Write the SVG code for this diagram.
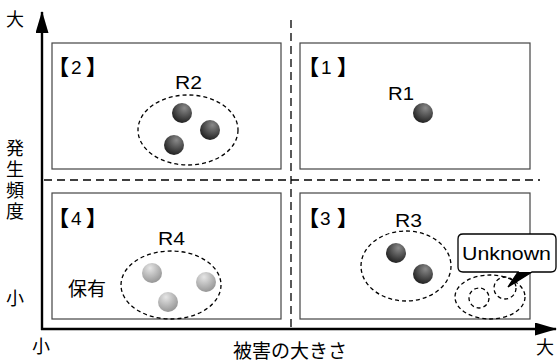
<svg xmlns="http://www.w3.org/2000/svg" width="558" height="363" viewBox="0 0 558 363">
  <style>
    .box { fill: #fff; stroke: #444; stroke-width: 1.2; }
    .axis { stroke: #000; stroke-width: 2.4; fill: none; }
    .guide { stroke: #000; stroke-width: 1.3; stroke-dasharray: 8 5; fill: none; }
    .group { fill: none; stroke: #000; stroke-width: 1.3; stroke-dasharray: 4 3; }
    .t { font-family: "Liberation Sans", "Noto Sans CJK JP", sans-serif; fill: #000; }
    .jp { font-family: "Noto Sans CJK JP", "Liberation Sans", sans-serif; fill: #000; }
    .br { font-family: "Noto Sans CJK JP", sans-serif; font-size: 21px; font-weight: 900; fill: #000; }
    .num { font-family: "Liberation Sans", sans-serif; font-size: 19px; fill: #000; }
  </style>
  <defs>
    <radialGradient id="dark" cx="0.62" cy="0.3" r="0.75" fx="0.62" fy="0.25">
      <stop offset="0" stop-color="#8a8a8a"/>
      <stop offset="1" stop-color="#1c1c1c"/>
    </radialGradient>
    <radialGradient id="light" cx="0.4" cy="0.3" r="0.8" fx="0.4" fy="0.25">
      <stop offset="0" stop-color="#e6e6e6"/>
      <stop offset="1" stop-color="#8c8c8c"/>
    </radialGradient>
    <marker id="head" viewBox="0 0 22 13" refX="21" refY="6.5" markerWidth="22" markerHeight="13" markerUnits="userSpaceOnUse" orient="auto">
      <path d="M0,0 L22,6.5 L0,13 Z" fill="#000"/>
    </marker>
  </defs>

  <!-- quadrant 2 -->
  <g id="q2">
    <rect class="box" x="52" y="43" width="229" height="126"/>
    <text class="br" x="69" y="75" text-anchor="end">【</text>
    <text class="num" x="71" y="74">2</text>
    <text class="br" x="86" y="75">】</text>
    <text class="t" x="175" y="89" font-size="18" textLength="27" lengthAdjust="spacingAndGlyphs">R2</text>
    <ellipse class="group" cx="188" cy="130" rx="50" ry="35"/>
    <circle cx="182" cy="113" r="10" fill="url(#dark)"/>
    <circle cx="210" cy="130" r="10" fill="url(#dark)"/>
    <circle cx="174" cy="145" r="10" fill="url(#dark)"/>
  </g>

  <!-- quadrant 1 -->
  <g id="q1">
    <rect class="box" x="300" y="43" width="230" height="126"/>
    <text class="br" x="319" y="75" text-anchor="end">【</text>
    <text class="num" x="321" y="74">1</text>
    <text class="br" x="337" y="75">】</text>
    <text class="t" x="388" y="100" font-size="18" textLength="26" lengthAdjust="spacingAndGlyphs">R1</text>
    <circle cx="423" cy="113" r="10" fill="url(#dark)"/>
  </g>

  <!-- quadrant 4 -->
  <g id="q4">
    <rect class="box" x="52" y="193" width="229" height="126"/>
    <text class="br" x="69" y="226" text-anchor="end">【</text>
    <text class="num" x="71" y="225">4</text>
    <text class="br" x="86" y="226">】</text>
    <text class="t" x="158" y="245" font-size="18" textLength="27" lengthAdjust="spacingAndGlyphs">R4</text>
    <text class="jp" x="68" y="296" font-size="19">保有</text>
    <ellipse class="group" cx="171" cy="285" rx="50" ry="34"/>
    <circle cx="152" cy="273" r="10" fill="url(#light)"/>
    <circle cx="206" cy="282" r="10" fill="url(#light)"/>
    <circle cx="168" cy="302" r="10" fill="url(#light)"/>
  </g>

  <!-- quadrant 3 -->
  <g id="q3">
    <rect class="box" x="300" y="193" width="230" height="126"/>
    <text class="br" x="319" y="226" text-anchor="end">【</text>
    <text class="num" x="320" y="225">3</text>
    <text class="br" x="337" y="226">】</text>
    <text class="t" x="395" y="227" font-size="18" textLength="27" lengthAdjust="spacingAndGlyphs">R3</text>
    <ellipse class="group" cx="406" cy="266" rx="45" ry="35"/>
    <circle cx="396" cy="253" r="10" fill="url(#dark)"/>
    <circle cx="423" cy="274" r="10" fill="url(#dark)"/>
  </g>

  <!-- unknown risks -->
  <g id="unknown">
    <ellipse class="group" cx="490" cy="297" rx="35" ry="22"/>
    <circle class="group" cx="479" cy="298" r="10"/>
    <circle class="group" cx="505" cy="288" r="11"/>
    <path d="M463,234 H551 Q556,234 556,239 V267 Q556,272 551,272 H532 L508,287 L518,272 H463 Q458,272 458,267 V239 Q458,234 463,234 Z" fill="#fff" stroke="#000" stroke-width="1.3"/>
    <path d="M518,272 L508,287 L532,272 Z" fill="#000"/>
    <text class="t" x="462" y="260" font-size="18" textLength="89" lengthAdjust="spacingAndGlyphs">Unknown</text>
  </g>

  <!-- axes and quadrant dividers -->
  <g id="connectors">
    <line class="guide" x1="291" y1="20" x2="291" y2="327"/>
    <line class="guide" x1="44" y1="180" x2="540" y2="180"/>
    <line class="axis" x1="42" y1="330" x2="42" y2="12" marker-end="url(#head)"/>
    <line class="axis" x1="41" y1="329" x2="556" y2="329" marker-end="url(#head)"/>
  </g>

  <!-- axis labels -->
  <g id="labels">
    <text class="jp" x="15" y="26" font-size="18" text-anchor="middle">大</text>
    <text class="jp" x="15" y="139" font-size="18" letter-spacing="3" style="writing-mode: vertical-rl; text-orientation: upright;">発生頻度</text>
    <text class="jp" x="15" y="305" font-size="18" text-anchor="middle">小</text>
    <text class="jp" x="41" y="353" font-size="18" text-anchor="middle">小</text>
    <text class="jp" x="290" y="358" font-size="19" text-anchor="middle">被害の大きさ</text>
    <text class="jp" x="545" y="354" font-size="18" text-anchor="middle">大</text>
  </g>
</svg>
